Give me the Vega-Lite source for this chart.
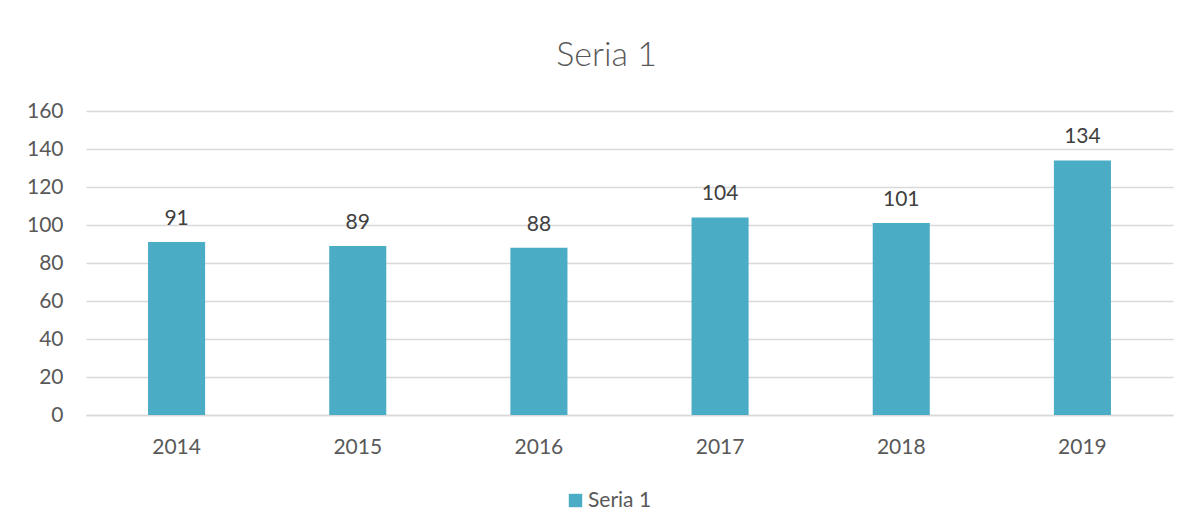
{
  "$schema": "https://vega.github.io/schema/vega-lite/v6.json",
  "autosize": {"type": "none"},
  "width": 1087,
  "height": 304,
  "padding": {"left": 86, "top": 111, "right": 14, "bottom": 113},
  "background": "white",
  "title": {"text": "Seria 1", "fontSize": 34, "font": "Lato", "fontWeight": 300, "color": "#595959", "anchor": "middle", "dx": -23, "offset": 27},
  "data": {"values": [
    {"year": "2014", "value": 91, "series": "Seria 1"},
    {"year": "2015", "value": 89, "series": "Seria 1"},
    {"year": "2016", "value": 88, "series": "Seria 1"},
    {"year": "2017", "value": 104, "series": "Seria 1"},
    {"year": "2018", "value": 101, "series": "Seria 1"},
    {"year": "2019", "value": 134, "series": "Seria 1"}
  ]},
  "encoding": {
    "x": {"field": "year", "type": "nominal", "scale": {"paddingInner": 0.685, "paddingOuter": 0.3425},
      "axis": {"title": null, "labelAngle": 0, "labelFont": "Lato", "labelFontSize": 21, "labelColor": "#595959", "labelPadding": 21, "ticks": false, "domainColor": "#D9D9D9", "domainWidth": 1.5}},
    "y": {"field": "value", "type": "quantitative", "scale": {"domain": [0, 160]},
      "axis": {"title": null, "values": [0, 20, 40, 60, 80, 100, 120, 140, 160], "labelFont": "Lato", "labelFontSize": 21, "labelColor": "#595959", "labelPadding": 23, "ticks": false, "domain": false, "gridColor": "#D9D9D9", "gridWidth": 1.5}}
  },
  "layer": [
    {"mark": {"type": "bar", "color": "#4BACC6"},
     "encoding": {"color": {"field": "series", "type": "nominal", "scale": {"range": ["#4BACC6"]},
       "legend": {"title": null, "orient": "none", "legendX": 479, "legendY": 379, "direction": "horizontal", "symbolType": "square", "symbolSize": 180, "symbolStrokeWidth": 0, "labelFont": "Lato", "labelFontSize": 21, "labelColor": "#595959", "labelOffset": 2}}}},
    {"mark": {"type": "text", "font": "Lato", "fontSize": 21, "color": "#404040", "baseline": "bottom", "dy": -13},
     "encoding": {"text": {"field": "value", "type": "quantitative"}}}
  ],
  "config": {"view": {"stroke": null}}
}
